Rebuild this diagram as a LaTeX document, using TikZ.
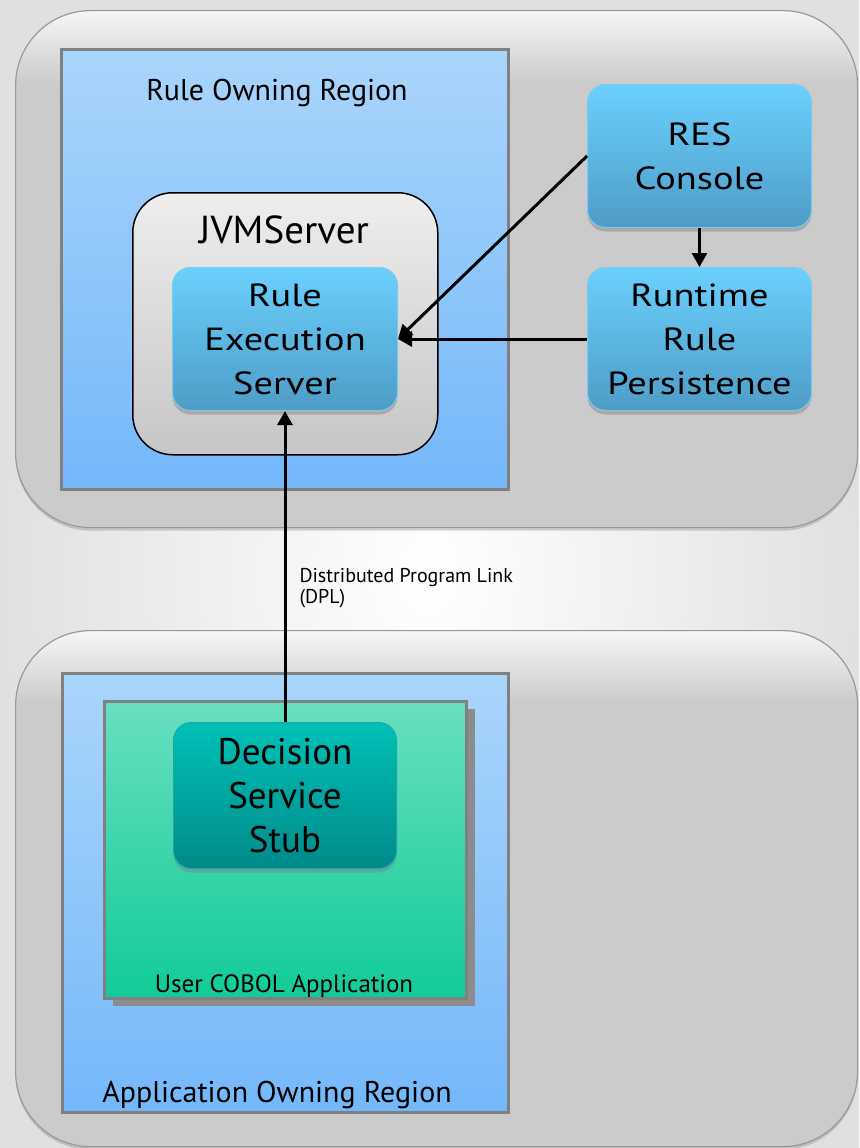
\documentclass[tikz,border=0pt]{standalone}
\usepackage{fontspec}
\setmainfont{PT Sans}
\newfontfamily\widesans{PT Sans}[FakeStretch=1.2]
\usetikzlibrary{arrows.meta,positioning,shadows,calc}
\definecolor{boxgray}{HTML}{CBCBCB}
\definecolor{panelhi}{HTML}{F6F6F6}
\definecolor{edgegray}{HTML}{808080}
\definecolor{regiontop}{HTML}{AAD5FA}
\definecolor{regionbot}{HTML}{74B8FA}
\definecolor{jvmtop}{HTML}{EEEEEE}
\definecolor{jvmbot}{HTML}{C6C6C6}
\definecolor{comptop}{HTML}{6BD0FE}
\definecolor{compbot}{HTML}{4E9CC6}
\definecolor{compedge}{HTML}{7CCBEB}
\definecolor{stubtop}{HTML}{00C1B6}
\definecolor{stubbot}{HTML}{008A8A}
\definecolor{stubedge}{HTML}{1FA5A5}
\definecolor{apptop}{HTML}{68DFC0}
\definecolor{appbot}{HTML}{12CB98}
\pgfdeclareverticalshading{panelshade}{100bp}{color(0bp)=(boxgray); color(68bp)=(boxgray); color(75bp)=(panelhi); color(100bp)=(panelhi)}

\begin{document}
\begin{tikzpicture}[
  x=1pt, y=1pt,
  font=\fontsize{30}{36}\selectfont,
  ownerpanel/.style={
    draw=black!40,
    line width=1.2pt,
    shading=panelshade,
    rounded corners=75pt,
    inner sep=0pt,
    anchor=north west,
    drop shadow={shadow xshift=0pt, shadow yshift=-3pt, opacity=0.35}
  },
  regionbox/.style={
    draw=edgegray,
    line width=3pt,
    top color=regiontop,
    bottom color=regionbot,
    inner sep=0pt,
    anchor=north west
  },
  jvmbox/.style={
    draw=black,
    line width=1.5pt,
    top color=jvmtop,
    bottom color=jvmbot,
    rounded corners=40pt,
    inner sep=0pt,
    anchor=north west
  },
  compbox/.style={
    draw=compedge,
    line width=1pt,
    top color=comptop,
    bottom color=compbot,
    rounded corners=18pt,
    minimum width=224pt,
    minimum height=143pt,
    align=center,
    anchor=north west,
    font=\widesans\fontsize{32}{44}\selectfont,
    drop shadow={shadow xshift=0pt, shadow yshift=-4pt, opacity=0.45}
  },
  stubbox/.style={
    compbox,
    draw=stubedge,
    top color=stubtop,
    bottom color=stubbot,
    font=\fontsize{37}{44}\selectfont
  },
  apppanel/.style={
    draw=edgegray,
    line width=3pt,
    top color=apptop,
    bottom color=appbot,
    inner sep=0pt,
    anchor=north west,
    drop shadow={shadow xshift=8pt, shadow yshift=-7pt, opacity=1, fill=black!45}
  },
  linkarrow/.style={
    -{Triangle[length=14pt,width=15pt]},
    line width=3pt,
    draw=black
  },
  paneltitle/.style={anchor=base, inner sep=0pt}
]

  % page and background
  \useasboundingbox (0,0) rectangle (859,-1148);
  \shade[inner color=white, outer color=black!12] (0,0) rectangle (859,-1148);

  % -------------------------------------------------------------
  % RULE OWNING REGION (TOP)
  % -------------------------------------------------------------
  \node[ownerpanel, minimum width=842pt, minimum height=517pt] (rulepanel) at (15,-10) {};
  \node[regionbox, minimum width=447pt, minimum height=440pt] (ruleregion) at (60,-48) {};
  \node[paneltitle] (ruletitle) at (277,-100) {Rule Owning Region};

  % JVM server with the execution server inside
  \node[jvmbox, minimum width=305pt, minimum height=262pt] (jvm) at (132,-192) {};
  \node[paneltitle, font=\fontsize{39}{44}\selectfont] (jvmtitle) at (284,-243) {JVMServer};
  \node[compbox, minimum width=225pt] (res) at (172,-267) {Rule\\Execution\\Server};

  % console and persistence
  \node[compbox] (console) at (587,-84) {RES\\Console};
  \node[compbox] (persist) at (587,-267) {Runtime\\Rule\\Persistence};

  \draw[linkarrow] (console.south) -- (persist.north);
  \draw[linkarrow] (console.west) -- (res.east);
  \draw[linkarrow] (persist.west) -- (res.east);

  % -------------------------------------------------------------
  % APPLICATION OWNING REGION (BOTTOM)
  % -------------------------------------------------------------
  \node[ownerpanel, minimum width=842pt, minimum height=516pt] (apppanelbox) at (15,-630) {};
  \node[regionbox, minimum width=446pt, minimum height=439pt] (appregion) at (61,-672) {};
  \node[paneltitle, font=\fontsize{30}{36}\selectfont] (apptitle) at (277,-1102) {Application Owning Region};

  % user program and stub
  \node[apppanel, minimum width=362pt, minimum height=297pt] (cobol) at (103,-700) {};
  \node[paneltitle, font=\fontsize{25}{30}\selectfont] (cobollabel) at (284,-992) {User COBOL Application};
  \node[stubbox, minimum width=223pt, minimum height=146pt] (stub) at (173,-722) {Decision\\Service\\Stub};

  % DPL link up to the execution server
  \draw[linkarrow] (stub.north) -- (res.south)
    node[pos=0.43, anchor=west, xshift=10pt, inner sep=3pt, align=left, font=\fontsize{20}{21}\selectfont] (dpl) {Distributed Program Link\\(DPL)};

\end{tikzpicture}
\end{document}
